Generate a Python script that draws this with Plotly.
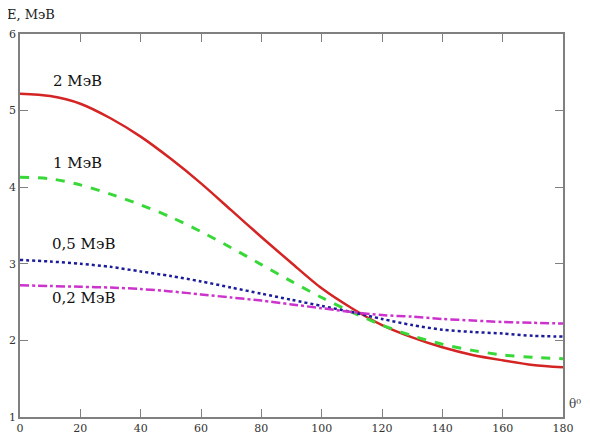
import plotly.graph_objects as go

theta = [0, 10, 20, 30, 40, 50, 60, 70, 80, 90, 100, 110, 120, 130, 140, 150, 160, 170, 180]
e_2mev = [5.22, 5.19, 5.09, 4.90, 4.66, 4.37, 4.05, 3.70, 3.35, 3.01, 2.68, 2.42, 2.20, 2.04, 1.91, 1.81, 1.74, 1.68, 1.65]
e_1mev = [4.13, 4.11, 4.03, 3.91, 3.77, 3.61, 3.42, 3.21, 2.99, 2.77, 2.56, 2.37, 2.20, 2.06, 1.95, 1.87, 1.81, 1.78, 1.76]
e_05mev = [3.05, 3.03, 3.00, 2.96, 2.90, 2.84, 2.77, 2.69, 2.61, 2.53, 2.45, 2.37, 2.28, 2.20, 2.14, 2.11, 2.09, 2.06, 2.05]
e_02mev = [2.72, 2.71, 2.70, 2.69, 2.67, 2.64, 2.60, 2.56, 2.52, 2.47, 2.42, 2.37, 2.33, 2.31, 2.28, 2.26, 2.24, 2.23, 2.22]

labels = ["2 МэВ", "1 МэВ", "0,5 МэВ", "0,2 МэВ"]
label_pos = [(19, 5.38), (19, 4.32), (21, 3.26), (21, 2.56)]
x_ticks = [0, 20, 40, 60, 80, 100, 120, 140, 160, 180]
y_ticks = [1, 2, 3, 4, 5, 6]

SERIF = "DejaVu Serif"

series = [
    (e_2mev, "#d42424", "solid", 2.5),
    (e_1mev, "#38d838", "dash", 3),
    (e_05mev, "#1c1c9a", "dot", 2.5),
    (e_02mev, "#cc33cc", "dashdot", 2.5),
]

fig = go.Figure()
for vals, col, dash, w in series:
    fig.add_trace(go.Scatter(x=theta, y=vals, mode="lines",
                             line=dict(color=col, dash=dash, width=w, shape="spline", smoothing=0.8),
                             showlegend=False, hoverinfo="skip"))

for txt, (lx, ly) in zip(labels, label_pos):
    fig.add_annotation(x=lx, y=ly, text=txt, showarrow=False,
                       font=dict(family=SERIF, size=15, color="#111111"))

fig.add_annotation(xref="paper", yref="paper", x=-0.028, y=1.052, xanchor="left", yanchor="middle",
                   text="E, МэВ", showarrow=False,
                   font=dict(family=SERIF, size=13, color="#222222"))
fig.add_annotation(xref="paper", yref="paper", x=1.008, y=0.034, xanchor="left", yanchor="middle",
                   text="θ⁰", showarrow=False,
                   font=dict(family=SERIF, size=12, color="#444444"))

axis_common = dict(showgrid=False, zeroline=False, showline=True, linecolor="#808080", linewidth=1.5,
                   mirror="ticks", ticks="inside", ticklen=8, tickcolor="#808080", tickwidth=1.2,
                   tickfont=dict(family=SERIF, size=11, color="#333333"))

fig.update_xaxes(range=[0, 180], tickvals=x_ticks, **axis_common)
fig.update_yaxes(range=[1, 6], tickvals=y_ticks, **axis_common)

fig.update_layout(width=582, height=429, margin=dict(l=12, r=27, t=26, b=20, autoexpand=False),
                  plot_bgcolor="white", paper_bgcolor="white")

fig.write_html("out.html")
